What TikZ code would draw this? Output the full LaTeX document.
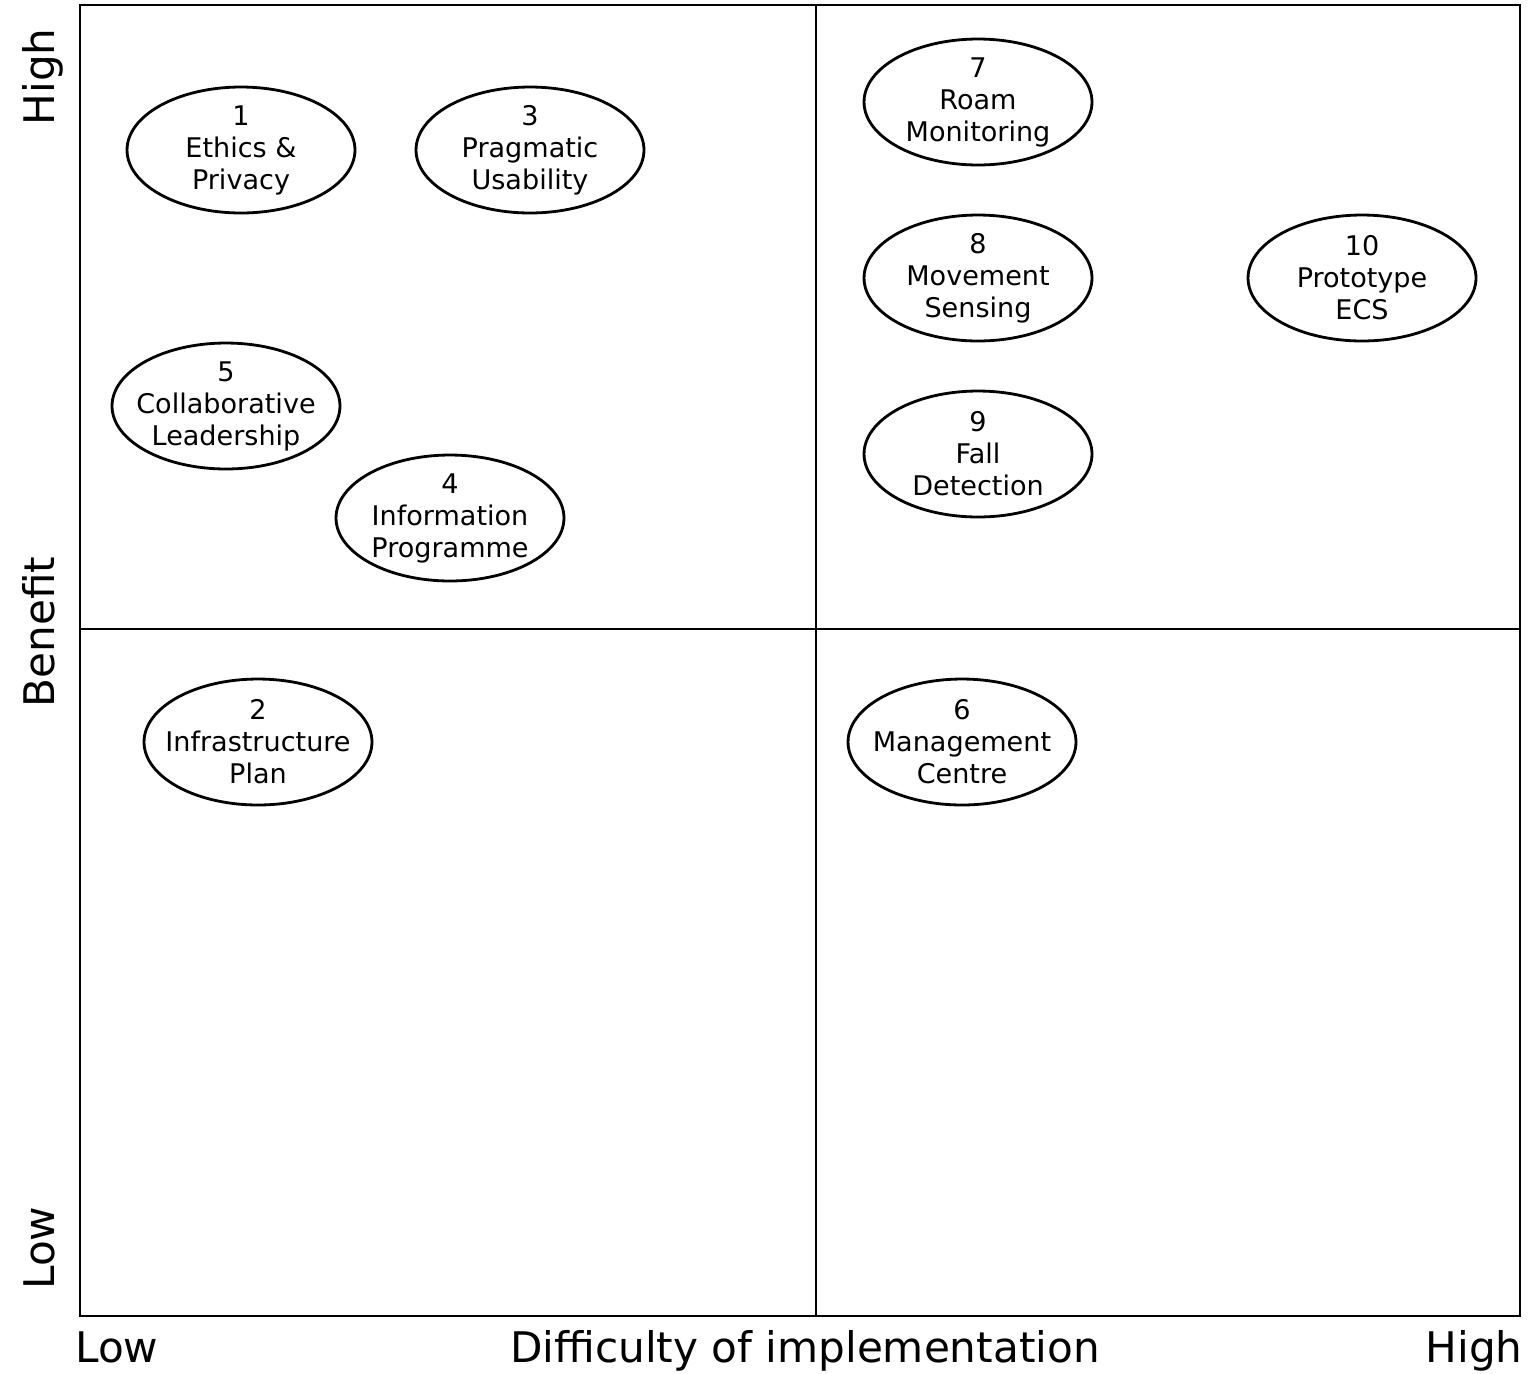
\documentclass[tikz,border=0pt]{standalone}
\usepackage{fontspec}
\setmainfont{DejaVu Sans}
\usetikzlibrary{shapes.geometric}

\tikzset{
	idea/.style={ellipse, draw, line width=1.6pt, minimum width=4.56cm, minimum height=2.52cm,
		inner xsep=-0.4cm, inner ysep=-0.3cm, align=center, font=\fontsize{15.4}{18.2}\selectfont},
	axislabel/.style={font=\fontsize{24}{26}\selectfont, inner sep=0pt}
}

\begin{document}
\begin{tikzpicture}[x=0.02cm, y=-0.02cm]
		\useasboundingbox (0,0) rectangle (1537,1373);
		% quadrant frame
		\draw[line width=1.6pt] (80,5) rectangle (1520,1316);
		\draw[line width=1.6pt] (816,5) -- (816,1316);
		\draw[line width=1.6pt] (80,629) -- (1520,629);
		
		% axis labels
		\node[axislabel, anchor=base west] (xlow) at (75,1362) {Low};
		\node[axislabel, anchor=base] (xname) at (805,1362) {Difficulty of implementation};
		\node[axislabel, anchor=base east] (xhigh) at (1523,1362) {High};
		\node[axislabel, rotate=90, anchor=base west] (ylow) at (54,1290) {Low};
		\node[axislabel, rotate=90, anchor=base] (yname) at (54,632) {Benefit};
		\node[axislabel, rotate=90, anchor=base east] (yhigh) at (54,28) {High};
		
		% items
		\node[idea] (ethics) at (241,150) {1\\Ethics \&\\Privacy};
		\node[idea] (usability) at (530,150) {3\\Pragmatic\\Usability};
		\node[idea] (leadership) at (226,406) {5\\Collaborative\\Leadership};
		\node[idea] (information) at (450,518) {4\\Information\\Programme};
		\node[idea] (infrastructure) at (258,742) {2\\Infrastructure\\Plan};
		\node[idea] (roam) at (978,102) {7\\Roam\\Monitoring};
		\node[idea] (movement) at (978,278) {8\\Movement\\Sensing};
		\node[idea] (fall) at (978,454) {9\\Fall\\Detection};
		\node[idea] (prototype) at (1362,278) {10\\Prototype\\ECS};
		\node[idea] (management) at (962,742) {6\\Management\\Centre};
	\end{tikzpicture}
\end{document}
